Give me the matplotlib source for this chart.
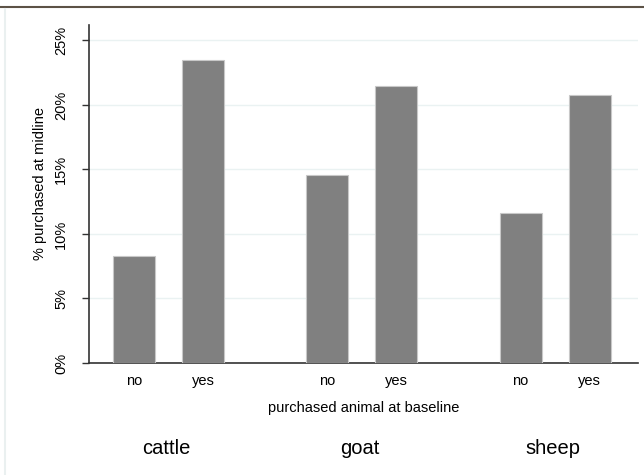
import matplotlib
matplotlib.use("Agg")
import matplotlib.pyplot as plt
from matplotlib.lines import Line2D
from matplotlib.ticker import FuncFormatter

plt.rcParams['font.family'] = ['Liberation Sans', 'DejaVu Sans']

animals = ["cattle", "goat", "sheep"]
baseline = ["no", "yes"]
pct_no = [8.3, 14.6, 11.6]
pct_yes = [23.5, 21.5, 20.8]
yticks = [0, 5, 10, 15, 20, 25]

group_step = 2.8
bar_w = 0.61

fig = plt.figure(figsize=(6.44, 4.75), dpi=100)
ax = fig.add_axes([89/644, 1-363/475, (638-89)/644, (363-25)/475])

xs, hs, labels = [], [], []
for g, a in enumerate(animals):
    for j, b in enumerate(baseline):
        xs.append(g*group_step + j)
        hs.append(pct_no[g] if j == 0 else pct_yes[g])
        labels.append(b)

ax.bar(xs, hs, width=bar_w, color="#808080", edgecolor="#c8c8c8", linewidth=0.8, zorder=3)

ax.set_ylim(0, 26.2)
ax.set_xlim(-0.65, 2*group_step + 1 + 0.70)
ax.set_yticks(yticks)
ax.yaxis.set_major_formatter(FuncFormatter(lambda v, p: f"{int(v)}%"))
for t in ax.get_yticklabels():
    t.set_rotation(90)
    t.set_va("center")
ax.tick_params(axis='y', labelsize=10.5, length=5, width=1, color="#333333", pad=10)
ax.set_xticks(xs)
ax.set_xticklabels(labels)
ax.tick_params(axis='x', length=0, labelsize=10.5, pad=8)
ax.grid(axis='y', color="#eaf2f2", linewidth=1, zorder=0)
ax.set_axisbelow(True)
for s in ["top", "right"]:
    ax.spines[s].set_visible(False)
ax.spines["left"].set_color("#333333")
ax.spines["bottom"].set_color("#333333")
ax.spines["left"].set_linewidth(1.2)
ax.spines["bottom"].set_linewidth(1.2)
ax.spines["left"].set_bounds(0, 26.2)

ax.set_ylabel("% purchased at midline", fontsize=10.5)
ax.yaxis.set_label_coords(-0.077, 0.53)
ax.set_xlabel("purchased animal at baseline", fontsize=10.5, labelpad=9)

for g, a in enumerate(animals):
    xc = g*group_step + 0.5
    xd = ax.transData.transform((xc, 0))[0]
    fig.text(xd/644 - 2/644, 1-448/475, a, fontsize=14.5, ha="center", va="center")

fig.add_artist(Line2D([0, 1], [1-7/475, 1-7/475], color="#5c5246", linewidth=1.5, transform=fig.transFigure))
fig.add_artist(Line2D([4.5/644, 4.5/644], [0, 1-9/475], color="#eaf0f0", linewidth=1.5, transform=fig.transFigure))

fig.savefig("out.png", dpi=100)
